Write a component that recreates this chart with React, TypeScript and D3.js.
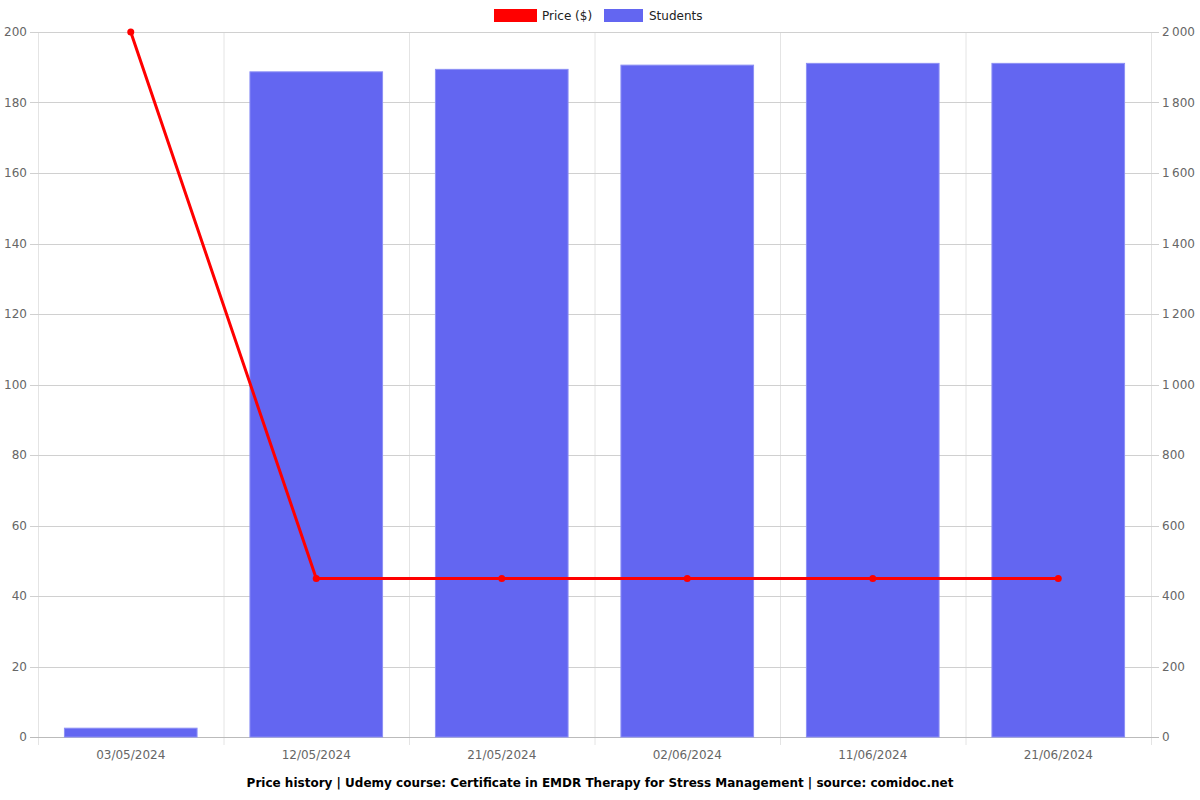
import React from "react";
import * as d3 from "d3";

const categories = ["03/05/2024", "12/05/2024", "21/05/2024", "02/06/2024", "11/06/2024", "21/06/2024"];
const students = [25, 1887, 1894, 1906, 1911, 1911];
const prices = [199.99, 44.99, 44.99, 44.99, 44.99, 44.99];
const leftTicks = [0, 20, 40, 60, 80, 100, 120, 140, 160, 180, 200];
const rightTicks = [0, 200, 400, 600, 800, 1000, 1200, 1400, 1600, 1800, 2000];
const title = "Price history | Udemy course: Certificate in EMDR Therapy for Stress Management | source: comidoc.net";

const W = 1200, H = 800;
const L = 38, R = 1151, T = 32, B = 737;
const font = "'DejaVu Sans', sans-serif";

function fmt(v: number) {
  const s = String(v);
  return s.length > 3 ? s.slice(0, s.length - 3) + "\u202f" + s.slice(s.length - 3) : s;
}

export default function App() {
  const x = d3.scaleBand<string>().domain(categories).range([L, R]).paddingInner(0).paddingOuter(0);
  const yL = d3.scaleLinear().domain([0, 200]).range([B, T]);
  const yR = d3.scaleLinear().domain([0, 2000]).range([B, T]);
  const bw = x.bandwidth() * 0.715;
  const cx = (c: string) => (x(c) as number) + x.bandwidth() / 2;
  const line = d3.line<number>().x((_, i) => cx(categories[i])).y((d) => yL(d));

  return (
    <svg width={W} height={H} style={{ position: "absolute", left: 0, top: 0, background: "#fff" }}>
      {/* vertical grid */}
      {categories.map((c, i) => (
        <line key={"vg" + i} x1={x(c) as number + 0.5} x2={x(c) as number + 0.5} y1={T} y2={B + 8} stroke="#e4e4e4" />
      ))}
      <line x1={R + 0.5} x2={R + 0.5} y1={T} y2={B + 8} stroke="#e4e4e4" />
      {/* horizontal grid */}
      {leftTicks.map((t) => (
        <line key={"hg" + t} x1={L - 8} x2={R + 8} y1={Math.round(yL(t)) + 0.5} y2={Math.round(yL(t)) + 0.5} stroke={t === 0 ? "#bbb" : "#d0d0d0"} />
      ))}
      {/* left labels */}
      {leftTicks.map((t) => (
        <text key={"ll" + t} x={L - 11} y={yL(t)} dy="0.35em" textAnchor="end" fontSize={12} fill="#666" fontFamily={font}>{t}</text>
      ))}
      {rightTicks.map((t) => (
        <text key={"rl" + t} x={R + 11} y={yR(t)} dy="0.35em" textAnchor="start" fontSize={12} fill="#666" fontFamily={font}>{fmt(t)}</text>
      ))}
      {/* x labels */}
      {categories.map((c) => (
        <text key={"xl" + c} x={cx(c)} y={755} dy="0.35em" textAnchor="middle" fontSize={12} fill="#666" fontFamily={font}>{c}</text>
      ))}
      {/* bars */}
      {students.map((v, i) => (
        <rect key={"b" + i} x={cx(categories[i]) - bw / 2} y={yR(v)} width={bw} height={B - yR(v)} fill="#6366f1" stroke="#8c8ff5" strokeWidth={1} />
      ))}
      {/* line */}
      <path d={line(prices) as string} fill="none" stroke="#ff0000" strokeWidth={3} />
      {prices.map((p, i) => (
        <circle key={"p" + i} cx={cx(categories[i])} cy={yL(p)} r={3.5} fill="#ff0000" />
      ))}
      {/* legend */}
      <rect x={494} y={9} width={43} height={13} fill="#ff0000" />
      <text x={542} y={16} dy="0.35em" fontSize={12} fill="#222" fontFamily={font}>Price ($)</text>
      <rect x={604} y={9} width={39} height={13} fill="#6366f1" />
      <text x={649} y={16} dy="0.35em" fontSize={12} fill="#222" fontFamily={font}>Students</text>
      {/* title */}
      <text x={600} y={783} dy="0.35em" textAnchor="middle" fontSize={12} fontWeight="bold" fill="#000" fontFamily={font}>{title}</text>
    </svg>
  );
}
